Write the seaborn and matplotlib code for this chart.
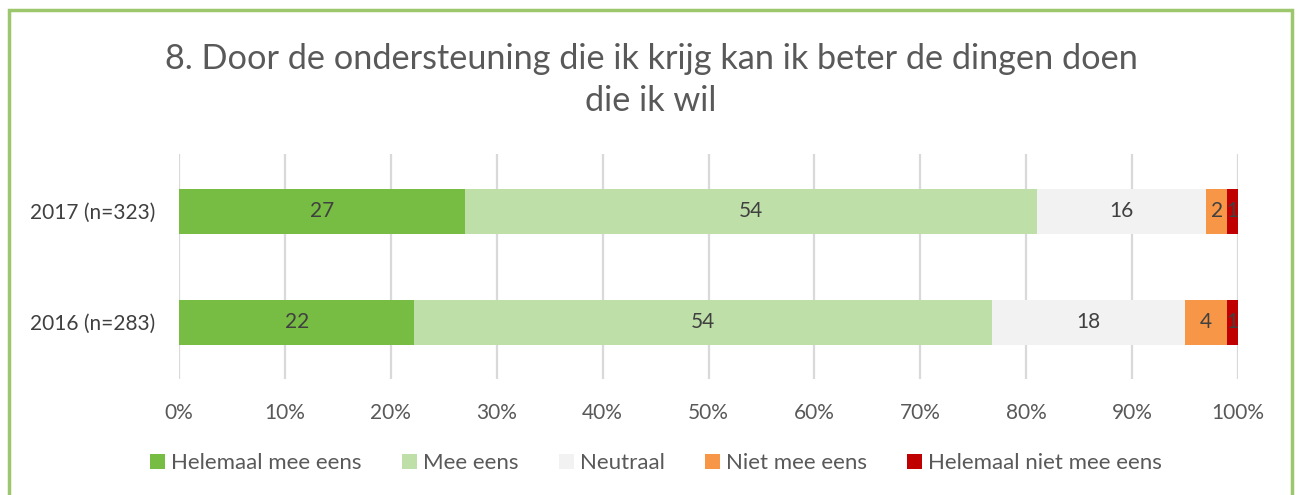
import numpy as np
import pandas as pd
import matplotlib
matplotlib.use("Agg")
import matplotlib.pyplot as plt
import seaborn as sns
from matplotlib.patches import Rectangle, Patch

# Survey answers per year (counts in percent, as reported)
groups = ["2017 (n=323)", "2016 (n=283)"]
categories = ["Helemaal mee eens", "Mee eens", "Neutraal", "Niet mee eens", "Helemaal niet mee eens"]
values_2017 = [27, 54, 16, 2, 1]
values_2016 = [22, 54, 18, 4, 1]
x_ticks = [0, 10, 20, 30, 40, 50, 60, 70, 80, 90, 100]
x_tick_labels = [f"{t}%" for t in x_ticks]
title = "8. Door de ondersteuning die ik krijg kan ik beter de dingen doen\ndie ik wil"

colors = ["#78BD43", "#BEDFA8", "#F2F2F2", "#F79646", "#C00000"]
text_grey = "#595959"
label_grey = "#404040"

sns.set_theme(style="white")
plt.rcParams["font.family"] = ["Lato", "DejaVu Sans"]

W, H = 1297, 495
fig = plt.figure(figsize=(W / 100, H / 100), dpi=100)
ax = fig.add_axes([179 / W, 1 - 379 / H, (1238 - 179) / W, (379 - 154) / H])

counts = np.array([values_2017, values_2016], dtype=float)
shares = counts / counts.sum(axis=1, keepdims=True) * 100
ends = shares.cumsum(axis=1)
starts = ends - shares

# 100% stacked bars: draw cumulative totals from the last category backwards
for i in reversed(range(len(categories))):
    df = pd.DataFrame({"group": groups, "end": ends[:, i]})
    sns.barplot(data=df, x="end", y="group", orient="h", color=colors[i],
                saturation=1, width=0.405, edgecolor="none", linewidth=0, ax=ax)

for j in range(len(groups)):
    for i in range(len(categories)):
        ax.text(starts[j, i] + shares[j, i] / 2, j, f"{int(counts[j, i])}",
                ha="center", va="center", color=label_grey, fontsize=15)

ax.set_xlim(0, 100)
ax.set_ylim(1.513, -0.514)
ax.set_xticks(x_ticks)
ax.set_xticklabels(x_tick_labels)
ax.set_xlabel("")
ax.set_ylabel("")
ax.grid(axis="x", color="#D9D9D9", linewidth=1.6)
ax.grid(axis="y", visible=False)
ax.set_axisbelow(True)
for s in ax.spines.values():
    s.set_visible(False)
ax.tick_params(axis="x", length=0, pad=17, labelsize=15, labelcolor=text_grey)
ax.tick_params(axis="y", length=0, pad=17, labelsize=15, labelcolor=label_grey)

fig.text(651 / W, 1 - 80 / H, title, ha="center", va="center",
         fontsize=24.7, color=text_grey, linespacing=1.4)

handles = [Patch(facecolor=c, edgecolor="none", label=l) for c, l in zip(colors, categories)]
fig.legend(handles=handles, loc="center", bbox_to_anchor=(656 / W, 1 - 463 / H),
           ncol=5, frameon=False, handlelength=0.68, handleheight=0.68,
           handletextpad=0.27, columnspacing=1.8, fontsize=16,
           labelcolor=text_grey)

# green chart-area frame (bottom edge runs off the image)
fig.add_artist(Rectangle((8.5 / W, -0.05), (1292 - 8.5) / W, 1.05 - 10 / H,
                         transform=fig.transFigure, fill=False,
                         edgecolor="#9CC76C", linewidth=2.5))

fig.savefig("out.png", dpi=100, facecolor="white")
